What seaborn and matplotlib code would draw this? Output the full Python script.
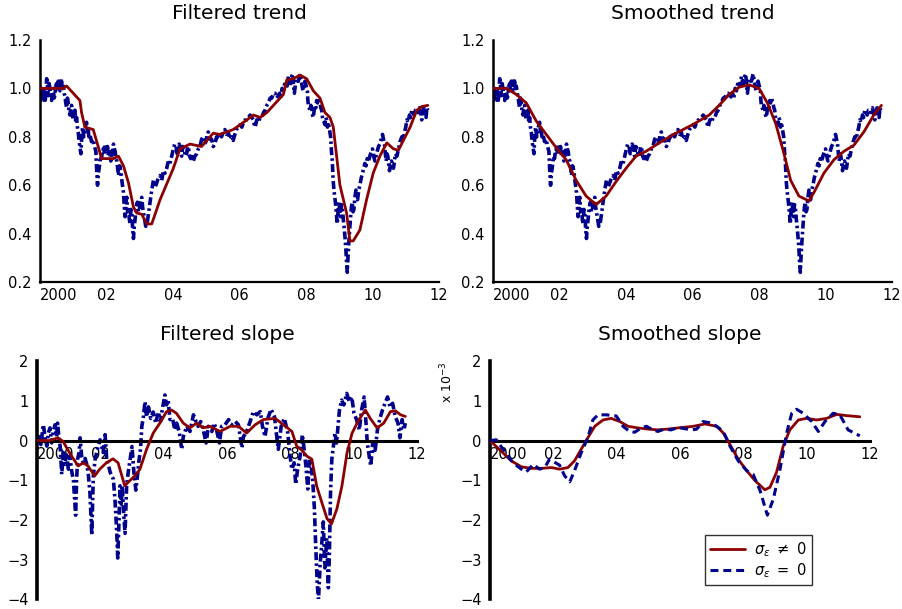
import numpy as np
import matplotlib
matplotlib.use("Agg")
import matplotlib.pyplot as plt
import seaborn as sns
from matplotlib.lines import Line2D

# ---------------------------------------------------------------- data
# observed series (trend panels)
obs_years = [
    2000.000, 2000.025, 2000.050, 2000.075, 2000.100, 2000.125, 2000.150, 2000.175, 2000.200, 2000.225,
    2000.250, 2000.275, 2000.300, 2000.325, 2000.350, 2000.375, 2000.400, 2000.425, 2000.450, 2000.475,
    2000.500, 2000.525, 2000.550, 2000.575, 2000.600, 2000.625, 2000.650, 2000.675, 2000.700, 2000.725,
    2000.750, 2000.775, 2000.800, 2000.825, 2000.850, 2000.875, 2000.900, 2000.925, 2000.950, 2000.975,
    2001.000, 2001.025, 2001.050, 2001.075, 2001.100, 2001.125, 2001.150, 2001.175, 2001.200, 2001.230,
    2001.255, 2001.280, 2001.315, 2001.350, 2001.375, 2001.400, 2001.425, 2001.450, 2001.475, 2001.500,
    2001.550, 2001.600, 2001.640, 2001.680, 2001.705, 2001.730, 2001.755, 2001.780, 2001.815, 2001.850,
    2001.875, 2001.900, 2001.925, 2001.950, 2001.975, 2002.000, 2002.030, 2002.060, 2002.095, 2002.130,
    2002.170, 2002.210, 2002.235, 2002.260, 2002.285, 2002.310, 2002.335, 2002.360, 2002.395, 2002.430,
    2002.470, 2002.510, 2002.535, 2002.560, 2002.585, 2002.610, 2002.635, 2002.660, 2002.685, 2002.710,
    2002.735, 2002.760, 2002.785, 2002.810, 2002.835, 2002.860, 2002.895, 2002.930, 2002.960, 2002.990,
    2003.025, 2003.060, 2003.085, 2003.110, 2003.145, 2003.180, 2003.205, 2003.230, 2003.270, 2003.310,
    2003.360, 2003.410, 2003.460, 2003.510, 2003.560, 2003.610, 2003.660, 2003.710, 2003.760, 2003.810,
    2003.860, 2003.910, 2003.960, 2004.010, 2004.050, 2004.090, 2004.125, 2004.160, 2004.185, 2004.210,
    2004.235, 2004.260, 2004.295, 2004.330, 2004.370, 2004.410, 2004.440, 2004.470, 2004.500, 2004.530,
    2004.570, 2004.610, 2004.660, 2004.710, 2004.760, 2004.810, 2004.860, 2004.910, 2004.950, 2004.990,
    2005.025, 2005.060, 2005.110, 2005.160, 2005.210, 2005.260, 2005.310, 2005.360, 2005.410, 2005.460,
    2005.510, 2005.560, 2005.610, 2005.660, 2005.710, 2005.760, 2005.810, 2005.860, 2005.910, 2005.960,
    2006.020, 2006.070, 2006.120, 2006.170, 2006.220, 2006.270, 2006.320, 2006.370, 2006.420, 2006.445,
    2006.470, 2006.520, 2006.570, 2006.620, 2006.670, 2006.720, 2006.770, 2006.820, 2006.870, 2006.920,
    2006.970, 2007.020, 2007.070, 2007.120, 2007.170, 2007.205, 2007.240, 2007.280, 2007.320, 2007.360,
    2007.400, 2007.435, 2007.470, 2007.505, 2007.540, 2007.570, 2007.600, 2007.625, 2007.650, 2007.685,
    2007.720, 2007.770, 2007.820, 2007.845, 2007.870, 2007.895, 2007.920, 2007.945, 2007.970, 2008.005,
    2008.040, 2008.055, 2008.070, 2008.095, 2008.120, 2008.145, 2008.170, 2008.195, 2008.220, 2008.245,
    2008.270, 2008.295, 2008.320, 2008.345, 2008.370, 2008.395, 2008.420, 2008.445, 2008.470, 2008.495,
    2008.520, 2008.545, 2008.570, 2008.595, 2008.620, 2008.645, 2008.670, 2008.705, 2008.740, 2008.765,
    2008.790, 2008.815, 2008.840, 2008.865, 2008.890, 2008.915, 2008.940, 2008.965, 2008.990, 2009.015,
    2009.040, 2009.065, 2009.090, 2009.120, 2009.150, 2009.175, 2009.200, 2009.220, 2009.240, 2009.265,
    2009.290, 2009.315, 2009.340, 2009.365, 2009.390, 2009.415, 2009.440, 2009.470, 2009.500, 2009.525,
    2009.550, 2009.585, 2009.620, 2009.660, 2009.700, 2009.735, 2009.770, 2009.805, 2009.840, 2009.880,
    2009.920, 2009.960, 2010.000, 2010.035, 2010.070, 2010.105, 2010.140, 2010.180, 2010.220, 2010.260,
    2010.300, 2010.330, 2010.360, 2010.385, 2010.410, 2010.435, 2010.460, 2010.485, 2010.510, 2010.540,
    2010.570, 2010.600, 2010.630, 2010.660, 2010.690, 2010.735, 2010.780, 2010.830, 2010.880, 2010.920,
    2010.960, 2011.000, 2011.030, 2011.070, 2011.110, 2011.145, 2011.180, 2011.215, 2011.250, 2011.290,
    2011.330, 2011.370, 2011.410, 2011.445, 2011.480, 2011.515, 2011.550, 2011.580, 2011.610, 2011.635,
    2011.660]
obs_level = [
    0.98, 0.95, 1.00, 0.97, 0.96, 0.99, 0.94, 0.98, 1.04, 1.01,
    0.97, 1.02, 1.00, 0.96, 0.95, 0.99, 1.00, 0.96, 0.97, 1.01,
    1.02, 0.99, 1.03, 1.00, 0.99, 1.02, 1.04, 1.00, 1.01, 0.98,
    0.97, 0.94, 0.92, 0.96, 0.94, 0.90, 0.89, 0.92, 0.93, 0.89,
    0.87, 0.90, 0.91, 0.86, 0.88, 0.84, 0.82, 0.78, 0.76, 0.73,
    0.80, 0.84, 0.80, 0.82, 0.85, 0.86, 0.82, 0.83, 0.79, 0.81,
    0.78, 0.79, 0.76, 0.74, 0.66, 0.60, 0.65, 0.67, 0.72, 0.71,
    0.74, 0.75, 0.73, 0.77, 0.75, 0.74, 0.76, 0.72, 0.74, 0.70,
    0.73, 0.77, 0.75, 0.74, 0.71, 0.70, 0.67, 0.64, 0.68, 0.66,
    0.61, 0.57, 0.51, 0.47, 0.53, 0.55, 0.49, 0.51, 0.46, 0.44,
    0.50, 0.49, 0.42, 0.38, 0.43, 0.46, 0.51, 0.53, 0.49, 0.50,
    0.54, 0.55, 0.51, 0.49, 0.46, 0.43, 0.46, 0.45, 0.49, 0.53,
    0.58, 0.62, 0.59, 0.61, 0.63, 0.64, 0.62, 0.66, 0.65, 0.67,
    0.70, 0.69, 0.72, 0.75, 0.77, 0.76, 0.73, 0.74, 0.77, 0.76,
    0.73, 0.72, 0.76, 0.75, 0.72, 0.73, 0.76, 0.75, 0.72, 0.71,
    0.73, 0.70, 0.72, 0.73, 0.75, 0.76, 0.79, 0.80, 0.77, 0.78,
    0.81, 0.82, 0.79, 0.79, 0.76, 0.77, 0.80, 0.79, 0.82, 0.80,
    0.82, 0.83, 0.81, 0.82, 0.79, 0.80, 0.785, 0.81, 0.83, 0.84,
    0.85, 0.84, 0.86, 0.87, 0.87, 0.88, 0.89, 0.88, 0.87, 0.85,
    0.84, 0.87, 0.86, 0.88, 0.88, 0.90, 0.91, 0.93, 0.94, 0.96,
    0.96, 0.98, 0.98, 0.96, 0.97, 0.98, 0.96, 1.00, 0.99, 1.02,
    1.03, 1.01, 1.05, 1.03, 1.02, 1.05, 1.06, 1.01, 0.98, 1.02,
    1.04, 1.03, 1.06, 1.04, 1.02, 1.00, 0.99, 1.02, 1.03, 1.01,
    0.99, 0.95, 0.93, 0.92, 0.91, 0.93, 0.92, 0.89, 0.88, 0.91,
    0.93, 0.92, 0.95, 0.94, 0.96, 0.95, 0.94, 0.92, 0.91, 0.88,
    0.87, 0.86, 0.85, 0.88, 0.87, 0.84, 0.86, 0.83, 0.80, 0.74,
    0.70, 0.62, 0.58, 0.55, 0.52, 0.48, 0.44, 0.50, 0.53, 0.49,
    0.47, 0.52, 0.51, 0.46, 0.42, 0.38, 0.33, 0.28, 0.24, 0.31,
    0.37, 0.42, 0.47, 0.51, 0.53, 0.49, 0.50, 0.55, 0.58, 0.55,
    0.54, 0.58, 0.60, 0.63, 0.65, 0.67, 0.69, 0.68, 0.71, 0.70,
    0.72, 0.74, 0.75, 0.72, 0.70, 0.72, 0.74, 0.76, 0.77, 0.79,
    0.81, 0.79, 0.77, 0.73, 0.70, 0.73, 0.72, 0.69, 0.66, 0.69,
    0.70, 0.68, 0.67, 0.70, 0.73, 0.72, 0.75, 0.78, 0.80, 0.79,
    0.82, 0.84, 0.87, 0.86, 0.89, 0.88, 0.91, 0.90, 0.89, 0.91,
    0.91, 0.90, 0.92, 0.90, 0.87, 0.90, 0.92, 0.89, 0.88, 0.92,
    0.91]

# filtered trend
filt_trend_years = [2000.00, 2000.70, 2000.80, 2001.20, 2001.25, 2001.35, 2001.60, 2001.75, 2001.85, 2002.21,
                    2002.36, 2002.51, 2002.66, 2002.81, 2002.91, 2003.06, 2003.21, 2003.36, 2003.61, 2004.01,
                    2004.21, 2004.51, 2004.86, 2005.21, 2005.41, 2005.81, 2006.02, 2006.42, 2006.62, 2006.82,
                    2007.32, 2007.42, 2007.62, 2007.82, 2008.02, 2008.22, 2008.42, 2008.57, 2008.72, 2008.82,
                    2008.92, 2009.02, 2009.22, 2009.32, 2009.42, 2009.62, 2009.82, 2010.02, 2010.22, 2010.43,
                    2010.63, 2010.78, 2011.13, 2011.33, 2011.48, 2011.66]
filt_trend = [1.00, 1.00, 1.01, 0.95, 0.90, 0.84, 0.83, 0.76, 0.71, 0.71,
              0.72, 0.68, 0.61, 0.51, 0.485, 0.48, 0.44, 0.44, 0.54, 0.67,
              0.75, 0.77, 0.76, 0.815, 0.81, 0.83, 0.85, 0.89, 0.88, 0.90,
              0.975, 1.035, 1.04, 1.055, 1.04, 0.99, 0.96, 0.90, 0.88, 0.84,
              0.72, 0.60, 0.485, 0.37, 0.37, 0.415, 0.54, 0.65, 0.72, 0.775,
              0.75, 0.745, 0.84, 0.91, 0.925, 0.93]

# smoothed trend
smooth_trend_years = [2000.00, 2000.40, 2000.70, 2001.00, 2001.30, 2001.60, 2001.90, 2002.20, 2002.50, 2002.80,
                      2003.10, 2003.40, 2003.70, 2004.00, 2004.30, 2004.60, 2005.00, 2005.50, 2006.00, 2006.50,
                      2006.80, 2007.10, 2007.40, 2007.70, 2008.00, 2008.25, 2008.50, 2008.75, 2008.95, 2009.20,
                      2009.50, 2009.65, 2009.95, 2010.25, 2010.55, 2010.85, 2011.15, 2011.45, 2011.68]
smooth_trend = [1.00, 1.00, 0.975, 0.94, 0.865, 0.81, 0.755, 0.705, 0.62, 0.555,
                0.52, 0.555, 0.615, 0.67, 0.72, 0.74, 0.775, 0.815, 0.85, 0.89,
                0.93, 0.975, 1.005, 1.015, 1.00, 0.94, 0.855, 0.73, 0.62, 0.555,
                0.535, 0.57, 0.65, 0.705, 0.74, 0.765, 0.82, 0.89, 0.93]

# slope with sigma_eps = 0 (filtered), units of 1e-3
obs_slope_years = [2000.00, 2000.06, 2000.12, 2000.20, 2000.26, 2000.31, 2000.36, 2000.41, 2000.46, 2000.52,
                   2000.57, 2000.62, 2000.65, 2000.70, 2000.73, 2000.78, 2000.83, 2000.88, 2000.93, 2000.99,
                   2001.04, 2001.09, 2001.15, 2001.19, 2001.22, 2001.25, 2001.28, 2001.33, 2001.36, 2001.41,
                   2001.46, 2001.52, 2001.57, 2001.62, 2001.67, 2001.73, 2001.76, 2001.78, 2001.83, 2001.88,
                   2001.93, 2001.99, 2002.04, 2002.09, 2002.15, 2002.20, 2002.25, 2002.31, 2002.36, 2002.41,
                   2002.46, 2002.51, 2002.55, 2002.59, 2002.62, 2002.66, 2002.69, 2002.74, 2002.78, 2002.83,
                   2002.88, 2002.94, 2003.00, 2003.06, 2003.12, 2003.17, 2003.22, 2003.27, 2003.31, 2003.36,
                   2003.41, 2003.46, 2003.52, 2003.59, 2003.67, 2003.75, 2003.83, 2003.90, 2003.96, 2004.04,
                   2004.09, 2004.14, 2004.20, 2004.28, 2004.35, 2004.41, 2004.49, 2004.57, 2004.62, 2004.73,
                   2004.83, 2004.94, 2005.02, 2005.09, 2005.17, 2005.25, 2005.34, 2005.41, 2005.52, 2005.59,
                   2005.67, 2005.76, 2005.83, 2005.94, 2006.05, 2006.15, 2006.26, 2006.36, 2006.47, 2006.52,
                   2006.62, 2006.73, 2006.83, 2006.94, 2007.05, 2007.12, 2007.20, 2007.29, 2007.39, 2007.50,
                   2007.57, 2007.62, 2007.71, 2007.81, 2007.92, 2007.99, 2008.05, 2008.12, 2008.17, 2008.23,
                   2008.31, 2008.38, 2008.45, 2008.50, 2008.55, 2008.60, 2008.66, 2008.71, 2008.76, 2008.80,
                   2008.85, 2008.89, 2008.94, 2008.99, 2009.04, 2009.09, 2009.15, 2009.20, 2009.23, 2009.27,
                   2009.31, 2009.36, 2009.41, 2009.46, 2009.55, 2009.62, 2009.69, 2009.78, 2009.86, 2009.94,
                   2010.01, 2010.09, 2010.18, 2010.25, 2010.33, 2010.39, 2010.43, 2010.49, 2010.54, 2010.60,
                   2010.67, 2010.75, 2010.83, 2010.91, 2010.99, 2011.07, 2011.15, 2011.23, 2011.31, 2011.40,
                   2011.46, 2011.53, 2011.59, 2011.63]
obs_slope = [0.00, 0.10, -0.10, 0.40, 0.05, -0.14, 0.20, 0.32, -0.06, 0.25,
             0.40, 0.10, 0.44, 0.00, -0.14, -0.85, -0.30, -0.60, -0.31, -0.72,
             -0.39, -0.75, -1.01, -1.50, -1.88, -1.00, -0.47, -0.30, 0.07, -0.40,
             -0.56, -0.45, -0.60, -0.85, -1.30, -2.38, -1.40, -0.89, -0.50, -0.31,
             -0.15, 0.02, -0.14, -0.30, 0.15, -0.47, -0.60, -0.80, -0.90, -0.97,
             -1.47, -2.20, -2.96, -2.00, -1.14, -1.60, -1.14, -1.90, -2.34, -1.14,
             -0.80, -0.47, -0.15, -0.80, -1.25, -0.90, -0.50, -0.20, 0.36, 0.60,
             0.98, 0.60, 0.85, 0.56, 0.72, 0.44, 0.72, 0.48, 0.81, 1.15,
             0.90, 1.02, 0.53, 0.56, 0.27, 0.44, 0.23, -0.22, 0.10, 0.36,
             0.23, 0.65, 0.48, 0.36, 0.48, 0.27, -0.06, 0.36, 0.23, 0.44,
             0.27, -0.06, 0.36, 0.40, 0.53, 0.40, 0.48, 0.40, -0.18, 0.10,
             0.23, 0.48, 0.73, 0.65, 0.73, 0.36, 0.10, 0.56, 0.79, 0.60,
             0.10, -0.22, 0.36, 0.56, 0.19, -0.39, -0.72, -0.56, -1.10, -0.72,
             -0.39, 0.15, -0.31, -0.72, -1.22, -0.47, -0.64, -1.05, -1.72, -2.63,
             -3.63, -4.00, -3.13, -2.63, -2.05, -3.21, -2.46, -3.71, -2.96, -1.30,
             -0.47, -0.14, 0.19, -0.06, 0.77, 1.02, 0.90, 1.19, 0.98, 1.10,
             0.69, 0.53, 0.27, 0.77, 1.10, 0.44, -0.06, -0.39, -0.64, -0.06,
             -0.31, 0.27, 0.56, 0.77, 0.94, 1.10, 0.85, 0.94, 0.61, 0.44,
             0.07, 0.53, 0.27, 0.44]

# filtered slope
filt_slope_years = [2000.00, 2000.40, 2000.66, 2000.82, 2001.09, 2001.30, 2001.46, 2001.61, 2001.82, 2001.98,
                    2002.19, 2002.40, 2002.56, 2002.77, 2002.93, 2003.09, 2003.25, 2003.46, 2003.67, 2003.88,
                    2004.09, 2004.25, 2004.40, 2004.62, 2004.83, 2005.04, 2005.25, 2005.46, 2005.78, 2006.10,
                    2006.36, 2006.62, 2006.89, 2007.15, 2007.52, 2007.78, 2008.05, 2008.20, 2008.36, 2008.52,
                    2008.68, 2008.83, 2008.99, 2009.16, 2009.30, 2009.47, 2009.63, 2009.79, 2009.95, 2010.16,
                    2010.37, 2010.53, 2010.74, 2010.95, 2011.16, 2011.32, 2011.48, 2011.63]
filt_slope = [0.00, 0.00, 0.07, -0.02, -0.39, -0.64, -0.56, -0.64, -0.89, -0.72,
              -0.56, -0.46, -0.56, -1.14, -1.01, -0.89, -0.72, -0.22, 0.19, 0.44,
              0.73, 0.77, 0.69, 0.44, 0.32, 0.44, 0.32, 0.36, 0.23, 0.36,
              0.36, 0.19, 0.40, 0.53, 0.56, 0.40, 0.23, -0.14, -0.24, -0.39,
              -0.47, -1.14, -1.55, -1.97, -2.10, -1.72, -1.14, -0.31, 0.19, 0.52,
              0.77, 0.55, 0.32, 0.44, 0.73, 0.75, 0.65, 0.61]

# smoothed slope, sigma_eps != 0
smooth_slope_years = [2000.00, 2000.36, 2000.67, 2000.99, 2001.30, 2001.62, 2001.94, 2002.20, 2002.46, 2002.67,
                      2002.88, 2003.09, 2003.31, 2003.57, 2003.83, 2004.10, 2004.36, 2004.67, 2004.99, 2005.30,
                      2005.62, 2005.94, 2006.42, 2006.79, 2007.16, 2007.37, 2007.58, 2007.84, 2008.11, 2008.37,
                      2008.68, 2008.84, 2009.05, 2009.26, 2009.47, 2009.74, 2010.00, 2010.32, 2010.63, 2010.95,
                      2011.26, 2011.68]
smooth_slope = [0.00, -0.27, -0.51, -0.66, -0.70, -0.70, -0.68, -0.72, -0.68, -0.51,
                -0.22, 0.07, 0.36, 0.52, 0.56, 0.48, 0.36, 0.32, 0.29, 0.27,
                0.29, 0.32, 0.36, 0.42, 0.36, 0.19, -0.10, -0.47, -0.76, -1.01,
                -1.24, -1.18, -0.80, -0.14, 0.27, 0.52, 0.56, 0.52, 0.56, 0.66,
                0.63, 0.60]

# smoothed slope, sigma_eps = 0
smooth_slope0_years = [2000.00, 2000.20, 2000.46, 2000.73, 2000.99, 2001.15, 2001.36, 2001.57, 2001.73, 2001.88,
                       2002.20, 2002.36, 2002.52, 2002.67, 2002.88, 2003.09, 2003.25, 2003.41, 2003.67, 2003.99,
                       2004.20, 2004.41, 2004.57, 2004.78, 2004.94, 2005.15, 2005.30, 2005.51, 2005.72, 2005.94,
                       2006.37, 2006.53, 2006.73, 2006.94, 2007.16, 2007.37, 2007.58, 2007.84, 2008.11, 2008.31,
                       2008.53, 2008.76, 2008.95, 2009.16, 2009.37, 2009.53, 2009.68, 2009.89, 2010.16, 2010.37,
                       2010.58, 2010.84, 2011.05, 2011.31, 2011.68]
smooth_slope0 = [0.00, 0.02, -0.27, -0.56, -0.72, -0.79, -0.60, -0.72, -0.68, -0.47,
                 -0.62, -0.89, -1.04, -0.76, -0.31, 0.07, 0.52, 0.65, 0.65, 0.62,
                 0.36, 0.23, 0.21, 0.32, 0.36, 0.27, 0.23, 0.29, 0.27, 0.33,
                 0.27, 0.29, 0.48, 0.45, 0.36, 0.23, -0.14, -0.51, -0.76, -0.85,
                 -1.26, -1.88, -1.47, -0.72, 0.19, 0.69, 0.79, 0.69, 0.48, 0.23,
                 0.48, 0.69, 0.65, 0.27, 0.12]

# ---------------------------------------------------------------- style
sns.set_style("white")
plt.rcParams["font.family"] = ["DejaVu Sans"]
plt.rcParams["axes.unicode_minus"] = True
for key in ("text.color", "axes.labelcolor", "xtick.color", "ytick.color"):
    plt.rcParams[key] = "black"

RED = "#8b0000"
BLUE = "#00008b"
DASHDOT = (2.2, 0.9, 0.7, 0.9)
DASHED = (2.6, 1.6)

fig = plt.figure(figsize=(9.03, 6.09), dpi=100)
ax_ft = fig.add_axes([0.0443, 0.5369, 0.4419, 0.3974])
ax_st = fig.add_axes([0.5460, 0.5369, 0.4419, 0.3974])
ax_fs = fig.add_axes([0.0410, 0.0160, 0.4208, 0.3908])
ax_ss = fig.add_axes([0.5426, 0.0160, 0.4208, 0.3908])

year_ticks = list(range(2000, 2013))
year_labels = ["2000" if y == 2000 else (f"{y % 100:02d}" if y % 2 == 0 else "") for y in year_ticks]


def style_axes(ax, ylim, yticks, ylabels, zero_axis):
    for side in ("top", "right"):
        ax.spines[side].set_visible(False)
    ax.set_xlim(2000, 2012)
    ax.set_ylim(*ylim)
    ax.set_xticks(year_ticks)
    ax.set_xticklabels(year_labels)
    ax.set_yticks(yticks)
    ax.set_yticklabels(ylabels)
    ax.set_xlabel("")
    ax.set_ylabel("")
    ax.tick_params(axis="y", direction="in", length=4, width=1.2, labelsize=10.5, pad=6, colors="black")
    if zero_axis:
        ax.spines["bottom"].set_position(("data", 0))
        ax.spines["left"].set_linewidth(2.6)
        ax.spines["bottom"].set_linewidth(2.2)
        ax.tick_params(axis="x", direction="inout", length=7, width=1.2, labelsize=10.5, pad=1,
                       colors="black")
    else:
        ax.spines["left"].set_linewidth(1.8)
        ax.spines["bottom"].set_linewidth(1.6)
        ax.tick_params(axis="x", direction="in", length=4, width=1.2, labelsize=10.5, pad=4,
                       colors="black")
    for s in ("left", "bottom"):
        ax.spines[s].set_color("black")
    lbls = ax.get_xticklabels()
    lbls[0].set_horizontalalignment("left")


def draw(ax, x, y, color, dashes=None, lw=2.0, z=2):
    sns.lineplot(x=x, y=y, ax=ax, color=color, lw=lw, estimator=None, sort=False,
                 legend=False, zorder=z)
    line = ax.get_lines()[-1]
    if dashes is not None:
        line.set_dashes(dashes)
    return line


# trend panels
draw(ax_ft, obs_years, obs_level, BLUE, DASHDOT, lw=2.6)
draw(ax_ft, filt_trend_years, filt_trend, RED, lw=2.0, z=3)
draw(ax_st, obs_years, obs_level, BLUE, DASHDOT, lw=2.6)
draw(ax_st, smooth_trend_years, smooth_trend, RED, lw=2.0, z=3)

trend_ticks = np.round(np.arange(0.2, 1.21, 0.1), 1)
trend_labels = [f"{t:.1f}" if round(t * 10) % 2 == 0 else "" for t in trend_ticks]
for ax, title in ((ax_ft, "Filtered trend"), (ax_st, "Smoothed trend")):
    style_axes(ax, (0.2, 1.2), trend_ticks, trend_labels, zero_axis=False)
    ax.set_title(title, fontsize=14.5, pad=15, color="black")

# slope panels
draw(ax_fs, obs_slope_years, obs_slope, BLUE, DASHDOT, lw=2.6)
draw(ax_fs, filt_slope_years, filt_slope, RED, lw=2.0, z=3)
draw(ax_ss, smooth_slope_years, smooth_slope, RED, lw=2.0, z=3)
draw(ax_ss, smooth_slope0_years, smooth_slope0, BLUE, DASHED, lw=2.2, z=3)

slope_ticks = np.arange(-4, 2.01, 0.5)
slope_labels = [("\u2212" + str(int(-t)) if t < 0 else str(int(t))) if float(t).is_integer() else ""
                for t in slope_ticks]
for ax, title in ((ax_fs, "Filtered slope"), (ax_ss, "Smoothed slope")):
    style_axes(ax, (-4, 2), slope_ticks, slope_labels, zero_axis=True)
    ax.set_title(title, fontsize=14.5, pad=15, color="black")

fig.text(0.495, 0.372, r"x 10$^{-3}$", rotation=90, ha="center", va="center", fontsize=9,
         color="black")

handles = [Line2D([0], [0], color=RED, lw=2.0),
           Line2D([0], [0], color=BLUE, lw=2.2, dashes=DASHED)]
leg = ax_ss.legend(handles, [r"$\sigma_\varepsilon\ \neq\ 0$", r"$\sigma_\varepsilon\ =\ 0$"],
                   loc="upper left", bbox_to_anchor=(0.566, 0.27), borderaxespad=0,
                   fontsize=10.5, frameon=True, fancybox=False, handlelength=2.4,
                   handletextpad=0.6, borderpad=0.35, labelspacing=0.15)
leg.get_frame().set_edgecolor("black")
leg.get_frame().set_linewidth(1.0)
for t in leg.get_texts():
    t.set_color("black")

fig.savefig("out.png", dpi=100)
